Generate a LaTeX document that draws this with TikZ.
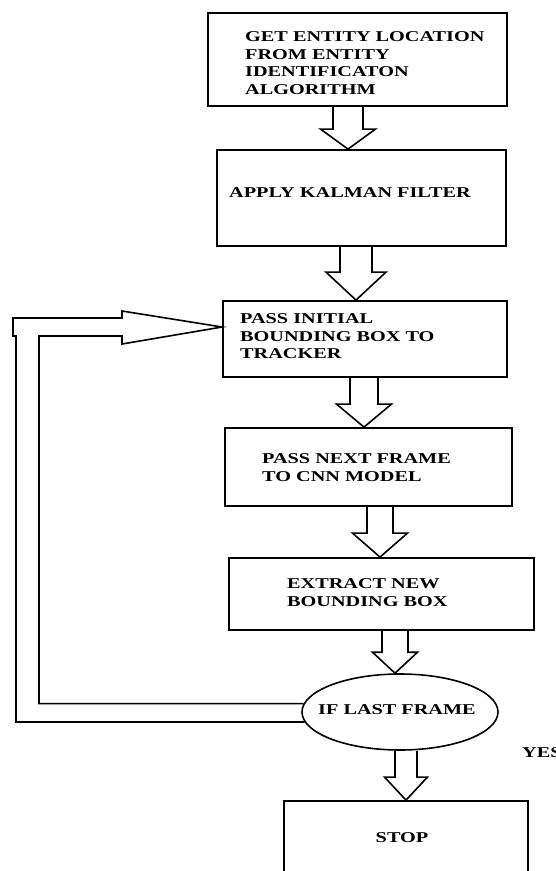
\documentclass[tikz,border=0pt]{standalone}
\usepackage{fontspec}
\setmainfont{Liberation Serif}[FakeStretch=1.35]
\usetikzlibrary{calc,shapes.geometric}

% hollow block arrow pointing down: #1 centre x, #2 source node, #3 target node,
% #4 shaft half width, #5 head half width, #6 head length
\newcommand\blockarrow[6]{%
  \draw[flow]
    ({#1-#4},0 |- #2.south)
    -- ($({#1-#4},0 |- #3.north)+(0,-#6)$)
    -- ($({#1-#5},0 |- #3.north)+(0,-#6)$)
    -- (#1,0 |- #3.north)
    -- ($({#1+#5},0 |- #3.north)+(0,-#6)$)
    -- ($({#1+#4},0 |- #3.north)+(0,-#6)$)
    -- ({#1+#4},0 |- #2.south);}

\begin{document}
\begin{tikzpicture}[x=1pt,y=-1pt,
  box/.style={draw,line width=1.8pt,rectangle,inner sep=0pt},
  oval/.style={draw,line width=1.6pt,ellipse,inner sep=0pt,
               minimum width=196pt,minimum height=76pt},
  flow/.style={line width=1.6pt,line join=miter},
  txt/.style={font=\bfseries\fontsize{15}{17.5}\selectfont,
              inner sep=0pt,align=left,anchor=west}]
\useasboundingbox[fill=white] (0,0) rectangle (555,871);

% process boxes
\node[box,minimum width=299pt,minimum height=93pt] (b1) at (357.5,59.5) {};
\node[box,minimum width=289pt,minimum height=96pt] (b2) at (361.5,198) {};
\node[box,minimum width=284pt,minimum height=76pt] (b3) at (365,339) {};
\node[box,minimum width=287pt,minimum height=78pt] (b4) at (368.5,467) {};
\node[box,minimum width=305pt,minimum height=72pt] (b5) at (381.5,594) {};
\node[oval] (dec) at (400,712) {};
\node[box,minimum width=244pt,minimum height=98pt] (stop) at (406,850) {};

% box texts
\node[txt] (t1) at (245,63) {GET ENTITY LOCATION\\FROM ENTITY\\IDENTIFICATON\\ALGORITHM};
\node[txt] (t2) at (229,193) {APPLY KALMAN FILTER};
\node[txt] (t3) at (240,336.5) {PASS INITIAL\\BOUNDING BOX TO\\TRACKER};
\node[txt] (t4) at (262,467.5) {PASS NEXT FRAME\\TO CNN MODEL};
\node[txt] (t5) at (287,592.5) {EXTRACT NEW\\BOUNDING BOX};
\node[txt,anchor=center] (t6) at (397,710) {IF LAST FRAME};
\node[txt,anchor=center] (t7) at (402,838) {STOP};
\node[txt] (yes) at (522,753) {YES};

% flow arrows
\blockarrow{348}{b1}{b2}{15}{27.5}{20}
\blockarrow{356}{b2}{b3}{16}{30}{28}
\blockarrow{364}{b3}{b4}{14}{27.5}{23}
\blockarrow{380}{b4}{b5}{13}{27.5}{24}
\blockarrow{395}{b5}{dec}{13}{22.5}{21}
\blockarrow{406}{dec}{stop}{11}{21.5}{23}

% loop back from the decision to the tracker
\coordinate (tip) at ($(b3.west)+(0,-12)$);
\draw[flow]
  (dec.186) -- (16,0 |- dec.186) -- (16,336) -- (13,336) -- (13,318)
  -- (122,318) -- (122,311) -- (tip) -- (122,344) -- (122,336)
  -- (39,336) -- (39,0 |- dec.175) -- (dec.175);
\end{tikzpicture}
\end{document}
